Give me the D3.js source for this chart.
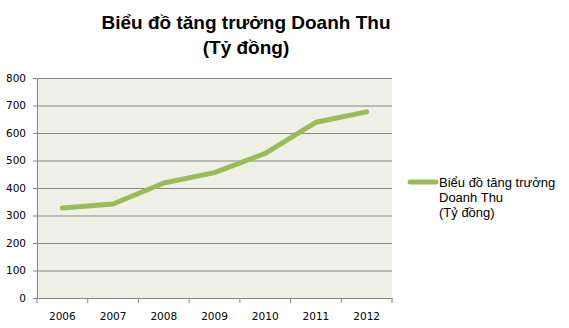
<!DOCTYPE html>
<html>
<head>
<meta charset="utf-8">
<script src="https://d3js.org/d3.v7.min.js"></script>
<style>
  body { margin: 0; background: #fff; }
</style>
</head>
<body>
<div id="chart"></div>
<script>
// dữ liệu doanh thu theo năm
const years = ["2006", "2007", "2008", "2009", "2010", "2011", "2012"];
const revenue = [327, 342, 418, 456, 526, 639, 677];
const yTicks = [0, 100, 200, 300, 400, 500, 600, 700, 800];
const seriesName = ["Biểu đồ tăng trưởng", "Doanh Thu", "(Tỷ đồng)"];
const titleLines = ["Biểu đồ tăng trưởng Doanh Thu", "(Tỷ đồng)"];

const width = 569, height = 328;
const margin = { top: 78, right: 177, bottom: 30, left: 37 };

const svg = d3.select("#chart").append("svg")
    .attr("width", width)
    .attr("height", height);

const x = d3.scaleBand().domain(years).range([margin.left, width - margin.right]);
const y = d3.scaleLinear().domain([0, 800]).range([height - margin.bottom, margin.top]);

// nền vùng vẽ
svg.append("rect")
    .attr("x", margin.left)
    .attr("y", margin.top)
    .attr("width", width - margin.left - margin.right)
    .attr("height", height - margin.top - margin.bottom)
    .attr("fill", "#eff1e9");

// đường lưới + trục Y
const yAxis = svg.append("g")
    .attr("transform", `translate(${margin.left},0)`)
    .call(d3.axisLeft(y).tickValues(yTicks).tickSize(-(width - margin.left - margin.right)).tickPadding(11).tickSizeOuter(0));
yAxis.select(".domain").attr("stroke", "#868686");
yAxis.selectAll(".tick line").attr("stroke", "#868686").attr("x1", -4);
yAxis.selectAll(".tick text").attr("font-size", 10.5).attr("fill", "#000")
    .attr("font-family", "DejaVu Sans, sans-serif");

// trục X
const xAxis = svg.append("g")
    .attr("transform", `translate(0,${height - margin.bottom})`)
    .call(d3.axisBottom(x).tickSize(0).tickPadding(15));
xAxis.select(".domain").attr("stroke", "#868686");
xAxis.selectAll(".tick text").attr("font-size", 10.5).attr("fill", "#000")
    .attr("font-family", "DejaVu Sans, sans-serif");
// vạch chia giữa các hạng mục
const bounds = years.map(d => x(d)).concat([x(years[years.length - 1]) + x.bandwidth()]);
svg.append("g").selectAll("line")
    .data(bounds)
    .enter().append("line")
    .attr("x1", d => d).attr("x2", d => d)
    .attr("y1", height - margin.bottom).attr("y2", height - margin.bottom + 5)
    .attr("stroke", "#868686");

// đường doanh thu
const line = d3.line()
    .x((d, i) => x(years[i]) + x.bandwidth() / 2)
    .y(d => y(d));
svg.append("path")
    .datum(revenue)
    .attr("d", line)
    .attr("fill", "none")
    .attr("stroke", "#9bbb59")
    .attr("stroke-width", 5)
    .attr("stroke-linecap", "round")
    .attr("stroke-linejoin", "round");

// tiêu đề
svg.append("text")
    .attr("text-anchor", "middle")
    .attr("font-family", "Liberation Sans, Arial, sans-serif")
    .attr("font-weight", "bold")
    .attr("font-size", 19)
    .selectAll("tspan")
    .data(titleLines)
    .enter().append("tspan")
    .attr("x", 246)
    .attr("y", (d, i) => 29 + i * 25)
    .text(d => d);

// chú giải
svg.append("line")
    .attr("x1", 410).attr("x2", 436)
    .attr("y1", 182).attr("y2", 182)
    .attr("stroke", "#9bbb59")
    .attr("stroke-width", 5)
    .attr("stroke-linecap", "round");
svg.append("text")
    .attr("font-family", "Liberation Sans, Arial, sans-serif")
    .attr("font-size", 13)
    .selectAll("tspan")
    .data(seriesName)
    .enter().append("tspan")
    .attr("x", 439)
    .attr("y", (d, i) => 187 + i * 15)
    .text(d => d);
</script>
</body>
</html>
